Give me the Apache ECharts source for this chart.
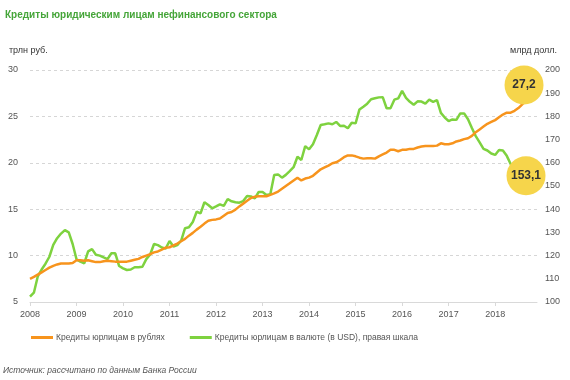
<!DOCTYPE html>
<html>
<head>
<meta charset="utf-8">
<script src="https://cdn.jsdelivr.net/npm/echarts@6/dist/echarts.min.js"></script>
<style>
html,body{margin:0;padding:0;background:#fff;}
#chart{width:570px;height:380px;}
</style>
</head>
<body>
<div id="chart"></div>
<script>
const startYear = 2008;
const yearTicks = [2008, 2009, 2010, 2011, 2012, 2013, 2014, 2015, 2016, 2017, 2018];
const leftTicks = [5, 10, 15, 20, 25, 30];
const rightTicks = [100, 110, 120, 130, 140, 150, 160, 170, 180, 190, 200];
const seriesNames = ['Кредиты юрлицам в рублях', 'Кредиты юрлицам в валюте (в USD), правая шкала'];

// Monthly, Jan 2008 – Oct 2018, trillion rubles
const rubLoans = [
  7.5, 7.7, 7.95, 8.2, 8.45, 8.7, 8.9, 9.05, 9.15, 9.15, 9.15, 9.2,
  9.5, 9.5, 9.45, 9.5, 9.4, 9.3, 9.3, 9.4, 9.45, 9.4, 9.35, 9.35,
  9.35, 9.35, 9.45, 9.55, 9.65, 9.85, 10.0, 10.15, 10.35, 10.45, 10.65, 10.85,
  10.9, 11.1, 11.3, 11.55, 11.8, 12.15, 12.45, 12.8, 13.1, 13.45, 13.75, 13.85,
  13.9, 14.0, 14.3, 14.6, 14.7, 14.95, 15.3, 15.6, 15.9, 16.2, 16.35, 16.4,
  16.4, 16.4, 16.55, 16.7, 16.9, 17.2, 17.5, 17.8, 18.1, 18.4, 18.1, 18.3,
  18.4, 18.6, 18.95, 19.3, 19.5, 19.7, 19.95, 20.05, 20.3, 20.6, 20.8, 20.8,
  20.7, 20.55, 20.45, 20.5, 20.5, 20.45, 20.7, 20.9, 21.1, 21.4, 21.4, 21.25,
  21.4, 21.4, 21.5, 21.5, 21.65, 21.75, 21.8, 21.8, 21.8, 21.85, 22.1, 22.0,
  22.0, 22.1, 22.3, 22.4, 22.55, 22.65, 22.9, 23.3, 23.6, 23.9, 24.2, 24.4,
  24.6, 24.9, 25.2, 25.4, 25.4, 25.6, 25.9, 26.3, 26.7, 27.2
];

// Monthly, Jan 2008 – Oct 2018, billion USD (right axis)
const usdLoans = [
  102.3, 104, 111, 114, 116.5, 119.5, 124.6, 127.5, 129.5, 131, 130, 125,
  118.4, 117.4, 116.7, 121.8, 122.8, 120.4, 120, 119.2, 118.5, 121, 121, 115.5,
  114.5, 113.8, 114, 115, 115, 115.2, 118.5, 120.5, 125, 124.5, 123.5, 123,
  126.3, 123.9, 124.5, 126.5, 131.8, 132.2, 134.5, 138.9, 138.2, 143, 141.8, 140.4,
  141.2, 142.1, 141.4, 144.4, 143.4, 143, 142.8, 143.5, 145.7, 145.5, 144.7, 147.4,
  147.4, 146.1, 146.4, 154.7, 155, 153.6, 154.8, 156.4, 158.1, 162.6, 161.2, 167.2,
  165.8, 168, 172, 176.3, 176.6, 177, 176.6, 177.6, 175.9, 176, 174.9, 177.3,
  177, 183, 184.2, 185.5, 187.4, 187.8, 188.2, 188.3, 183.5, 183.5, 187.2, 187.8,
  191, 188, 186.3, 185, 186.5, 186.4, 185.5, 187.2, 186.3, 187, 181.5, 179.5,
  178, 178.7, 178.5, 181.3, 181.3, 178.8, 175, 171.5, 168.8, 166, 165.3, 164,
  163.4, 165.5, 165.3, 163, 159.5, 157, 155.5, 154.5, 153.8, 153.1
];

const toPairs = arr => arr.map((v, i) => [startYear + i / 12, v]);
const rubData = toPairs(rubLoans);
const usdData = toPairs(usdLoans);
const fmtComma = v => Number(v).toFixed(1).replace('.', ',');

const FONT = 'Liberation Sans';
const GRAY = '#555';
const ORANGE = '#f7941d';
const GREEN = '#7ed23f';
const YELLOW = '#f6d54b';

function endMark(data, offset) {
  const last = data[data.length - 1];
  return {
    silent: true,
    symbol: 'circle',
    symbolSize: 39,
    symbolOffset: offset,
    itemStyle: { color: YELLOW },
    label: {
      show: true, position: 'inside',
      formatter: p => fmtComma(p.value),
      fontFamily: FONT, fontWeight: 'bold', fontSize: 12, color: '#333'
    },
    data: [{ coord: last, value: last[1] }]
  };
}

const chart = echarts.init(document.getElementById('chart'), null, { renderer: 'canvas' });
chart.setOption({
  animation: false,
  backgroundColor: '#fff',
  textStyle: { fontFamily: FONT },
  title: {
    text: 'Кредиты юридическим лицам нефинансового сектора',
    left: 0, top: 5,
    textStyle: { fontFamily: FONT, fontSize: 10, fontWeight: 'bold', color: '#45a539' }
  },
  graphic: [
    { type: 'text', left: 9, top: 46, style: { text: 'трлн руб.', fontFamily: FONT, fontSize: 9, fill: '#333' } },
    { type: 'text', right: 13, top: 46, style: { text: 'млрд долл.', fontFamily: FONT, fontSize: 9, fill: '#333' } },
    { type: 'text', left: 3, top: 366, style: { text: 'Источник: рассчитано по данным Банка России', fontFamily: FONT, fontSize: 8.5, fontStyle: 'italic', fill: GRAY } }
  ],
  legend: {
    data: seriesNames,
    left: 31, top: 333, padding: 0,
    icon: 'rect', itemWidth: 22, itemHeight: 3, itemGap: 25,
    textStyle: { fontFamily: FONT, fontSize: 8.5, color: GRAY, padding: [0, 0, 0, -2] }
  },
  grid: { left: 30, right: 33, top: 70, bottom: 78, containLabel: false },
  xAxis: {
    type: 'value', min: startYear, max: 2018.9,
    axisLine: { show: true, lineStyle: { color: '#d9d9d9', width: 1 } },
    axisTick: { show: true, length: 4, lineStyle: { color: '#d9d9d9' }, customValues: yearTicks },
    axisLabel: { fontFamily: FONT, fontSize: 9, color: GRAY, margin: 8, customValues: yearTicks, formatter: v => String(Math.round(v)) },
    splitLine: { show: false }
  },
  yAxis: [
    {
      type: 'value', min: leftTicks[0], max: leftTicks[leftTicks.length - 1], interval: 5,
      axisLine: { show: false }, axisTick: { show: false },
      axisLabel: { fontFamily: FONT, fontSize: 9, color: GRAY, margin: 12 },
      splitLine: { show: true, lineStyle: { color: '#d6d6d6', type: [3, 3], width: 1 } }
    },
    {
      type: 'value', min: rightTicks[0], max: rightTicks[rightTicks.length - 1], interval: 10,
      position: 'right',
      axisLine: { show: false }, axisTick: { show: false },
      axisLabel: { fontFamily: FONT, fontSize: 9, color: GRAY, margin: 8 },
      splitLine: { show: false }
    }
  ],
  series: [
    {
      name: seriesNames[0], type: 'line', yAxisIndex: 0, data: rubData,
      showSymbol: false, lineStyle: { color: ORANGE, width: 2.5 }, itemStyle: { color: ORANGE },
      z: 3, markPoint: endMark(rubData, [-6, -11])
    },
    {
      name: seriesNames[1], type: 'line', yAxisIndex: 1, data: usdData,
      showSymbol: false, lineStyle: { color: GREEN, width: 2.5 }, itemStyle: { color: GREEN },
      z: 2, markPoint: endMark(usdData, [-4, -3])
    }
  ]
});
</script>
</body>
</html>
